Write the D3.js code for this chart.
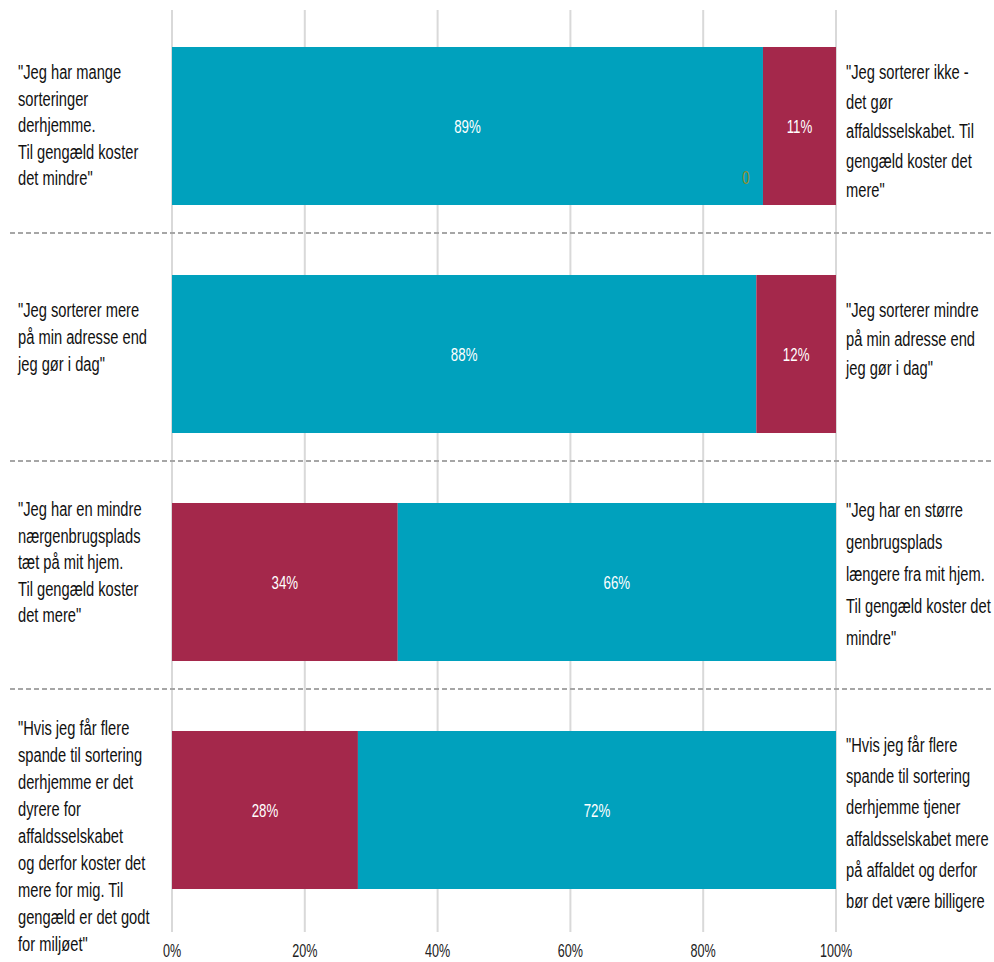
<!DOCTYPE html>
<html>
<head>
<meta charset="utf-8">
<script src="https://cdn.jsdelivr.net/npm/d3@7"></script>
<style>
  html, body { margin: 0; padding: 0; background: #fff; }
  svg { display: block; }
  text { font-family: "Liberation Sans", Arial, sans-serif; }
</style>
</head>
<body>
<svg id="chart" width="994" height="962"></svg>
<script>
// Statement pairs, one per row
const rows = ["r1", "r2", "r3", "r4"];
const leftStatements = [
  ["\"Jeg har mange", "sorteringer", "derhjemme.", "Til gengæld koster", "det mindre\""],
  ["\"Jeg sorterer mere", "på min adresse end", "jeg gør i dag\""],
  ["\"Jeg har en mindre", "nærgenbrugsplads", "tæt på mit hjem.", "Til gengæld koster", "det mere\""],
  ["\"Hvis jeg får flere", "spande til sortering", "derhjemme er det", "dyrere for", "affaldsselskabet", "og derfor koster det", "mere for mig. Til", "gengæld er det godt", "for miljøet\""]
];
const rightStatements = [
  ["\"Jeg sorterer ikke -", "det gør", "affaldsselskabet. Til", "gengæld koster det", "mere\""],
  ["\"Jeg sorterer mindre", "på min adresse end", "jeg gør i dag\""],
  ["\"Jeg har en større", "genbrugsplads", "længere fra mit hjem.", "Til gengæld koster det", "mindre\""],
  ["\"Hvis jeg får flere", "spande til sortering", "derhjemme tjener", "affaldsselskabet mere", "på affaldet og derfor", "bør det være billigere"]
];
// Share (%) agreeing with the left / right statement
const leftShare = [89, 88, 34, 28];
const rightShare = [11, 12, 66, 72];
// Colour group of the left segment in each row
const leftTone = ["teal", "teal", "maroon", "maroon"];
// "Ved ikke" share, shown only where reported
const dontKnow = [0, null, null, null];
const tickValues = [0, 20, 40, 60, 80, 100];

const tones = { teal: "#00A1BD", maroon: "#A4284B" };
const otherTone = { teal: "maroon", maroon: "teal" };

const svg = d3.select("#chart");
const x = d3.scaleLinear().domain([0, 100]).range([172, 836]);
const y = d3.scaleBand().domain(rows).range([12, 924]).paddingInner(0.307).paddingOuter(0.1535);

const SX = 0.7; // horizontal squeeze for the condensed lettering

function squeezedText(g, tx, ty, str, size, fill, anchor) {
  return g.append("text")
    .attr("transform", `translate(${tx},${ty}) scale(${SX},1)`)
    .attr("font-size", size)
    .attr("fill", fill)
    .attr("text-anchor", anchor || "start")
    .text(str);
}

// vertical gridlines
svg.append("g").selectAll("line").data(tickValues).join("line")
  .attr("x1", d => x(d)).attr("x2", d => x(d))
  .attr("y1", 10).attr("y2", 932)
  .attr("stroke", "#d9d9d9").attr("stroke-width", 2);

// dashed separators between rows
svg.append("g").selectAll("line").data(rows.slice(1)).join("line")
  .attr("x1", 10).attr("x2", 994)
  .attr("y1", d => y(d) - 42).attr("y2", d => y(d) - 42)
  .attr("stroke", "#a6a6a6").attr("stroke-width", 2)
  .attr("stroke-dasharray", "5,3");

// bars
const bars = svg.append("g");
rows.forEach((r, i) => {
  const segs = [
    { x0: 0, x1: leftShare[i], tone: leftTone[i] },
    { x0: leftShare[i], x1: leftShare[i] + rightShare[i], tone: otherTone[leftTone[i]] }
  ];
  segs.forEach(s => {
    bars.append("rect")
      .attr("x", x(s.x0)).attr("width", x(s.x1) - x(s.x0))
      .attr("y", y(r)).attr("height", y.bandwidth())
      .attr("fill", tones[s.tone]);
    squeezedText(bars, (x(s.x0) + x(s.x1)) / 2, y(r) + y.bandwidth() / 2 + 7,
      Math.round(s.x1 - s.x0) + "%", 19, "#fff", "middle");
  });
  if (dontKnow[i] !== null) {
    squeezedText(bars, x(leftShare[i]) - 17, y(r) + y.bandwidth() - 21,
      String(dontKnow[i]), 19, "#958d2b", "middle");
  }
});

// statement labels
const firstLine = [
  { left: 79, right: 79 },
  { left: 317, right: 317 },
  { left: 516, right: 517 },
  { left: 735, right: 752 }
];
const leading = { left: [26.5, 27, 26.5, 27], right: [29.5, 29, 32, 31.2] };
const lbl = svg.append("g");
rows.forEach((r, i) => {
  leftStatements[i].forEach((line, k) => {
    squeezedText(lbl, 18, firstLine[i].left + k * leading.left[i], line, 21, "#111");
  });
  rightStatements[i].forEach((line, k) => {
    squeezedText(lbl, 846, firstLine[i].right + k * leading.right[i], line, 21, "#111");
  });
});

// x axis labels
const ax = svg.append("g");
tickValues.forEach(t => {
  squeezedText(ax, x(t), 957, t + "%", 18, "#222", "middle");
});
</script>
</body>
</html>
